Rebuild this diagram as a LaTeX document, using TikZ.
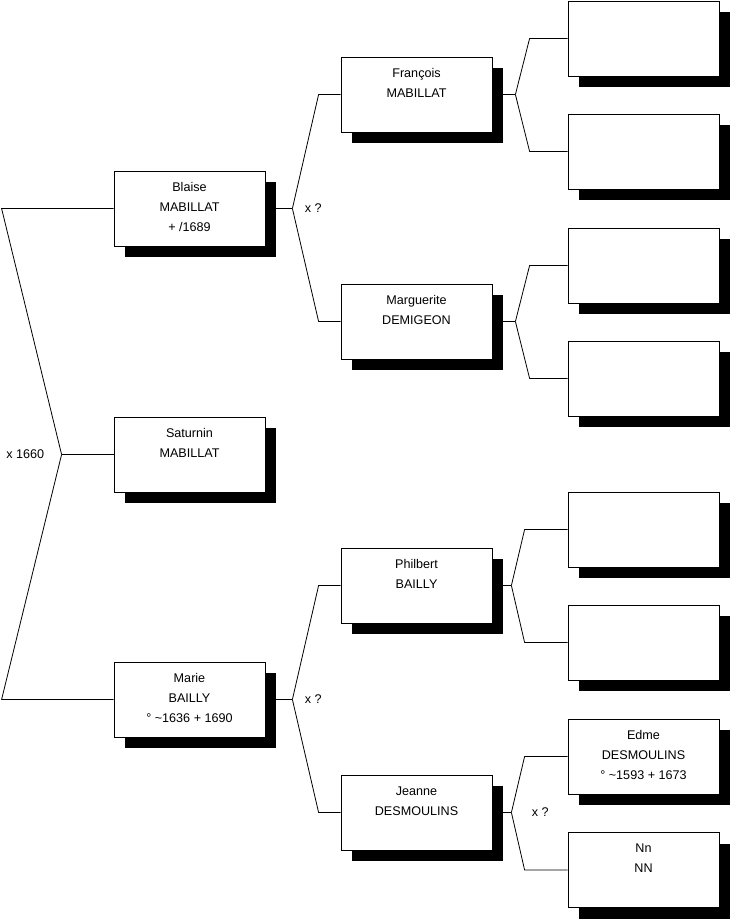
\documentclass[tikz,border=0pt]{standalone}
\usepackage{fontspec}
\setmainfont{Liberation Sans}
\usetikzlibrary{shadows}

\tikzset{
  indiv/.style={draw, fill=white, minimum width=151pt, minimum height=75pt, inner sep=0pt,
    drop shadow={shadow xshift=11pt, shadow yshift=-11pt, fill=black, opacity=1}},
  nom/.style={anchor=north, align=center, inner sep=0pt, yshift=-11.5pt,
    font=\fontsize{12.6}{20}\selectfont},
  union/.style={inner sep=2pt, font=\fontsize{12.6}{15}\selectfont},
}

\begin{document}
\begin{tikzpicture}[x=1pt, y=-1pt, line width=.8pt]
  \useasboundingbox (0,0) rectangle (731,920);
  % generation 1
  \node[indiv, label={[nom]north:Blaise\\MABILLAT\\+ /1689}] (blaise) at (189.5,208.5) {};
  \node[indiv, label={[nom]north:Saturnin\\MABILLAT}] (saturnin) at (189.5,454.5) {};
  \node[indiv, label={[nom]north:Marie\\BAILLY\\° \textasciitilde1636 + 1690}] (marie) at (189.5,699.5) {};
  % generation 2
  \node[indiv, label={[nom]north:François\\MABILLAT}] (francois) at (416.5,94.5) {};
  \node[indiv, label={[nom]north:Marguerite\\DEMIGEON}] (marguerite) at (416.5,321.5) {};
  \node[indiv, label={[nom]north:Philbert\\BAILLY}] (philbert) at (416.5,585.5) {};
  \node[indiv, label={[nom]north:Jeanne\\DESMOULINS}] (jeanne) at (416.5,812.5) {};
  % generation 3
  \foreach \n/\y in {ffrancois/38.5, mfrancois/151.5, fmarguerite/265.5,
      mmarguerite/378.5, fphilbert/529.5, mphilbert/642.5}
    \node[indiv] (\n) at (643.5,\y) {};
  \node[indiv, label={[nom]north:Edme\\DESMOULINS\\° \textasciitilde1593 + 1673}] (edme) at (643.5,756.5) {};
  \node[indiv, label={[nom]north:Nn\\NN}] (nn) at (643.5,870) {};

  % liens
  \draw (saturnin.west) -- ++(-52,0) coordinate (xsaturnin);
  \draw (blaise.west) -- ++(-112,0) -- (xsaturnin);
  \draw (marie.west) -- ++(-112,0) -- (xsaturnin);
  \foreach \c/\p/\m/\d/\e in {blaise/francois/marguerite/27/22, marie/philbert/jeanne/27/22,
      francois/ffrancois/mfrancois/23/38, marguerite/fmarguerite/mmarguerite/23/38,
      philbert/fphilbert/mphilbert/19/43, jeanne/edme/nn/19/43} {
    \draw (\c.east) -- ++(\d,0) coordinate (x\c);
    \draw (\p.west) -- ++(-\e,0) -- (x\c);
    \draw (\m.west) -- ++(-\e,0) -- (x\c);
  }

  % mariages
  \node[union, left=15pt] (usaturnin) at (xsaturnin) {x 1660};
  \node[union, right=10pt] (ublaise) at (xblaise) {x ?};
  \node[union, right=10pt] (umarie) at (xmarie) {x ?};
  \node[union, right=18pt] (ujeanne) at (xjeanne) {x ?};
\end{tikzpicture}
\end{document}
